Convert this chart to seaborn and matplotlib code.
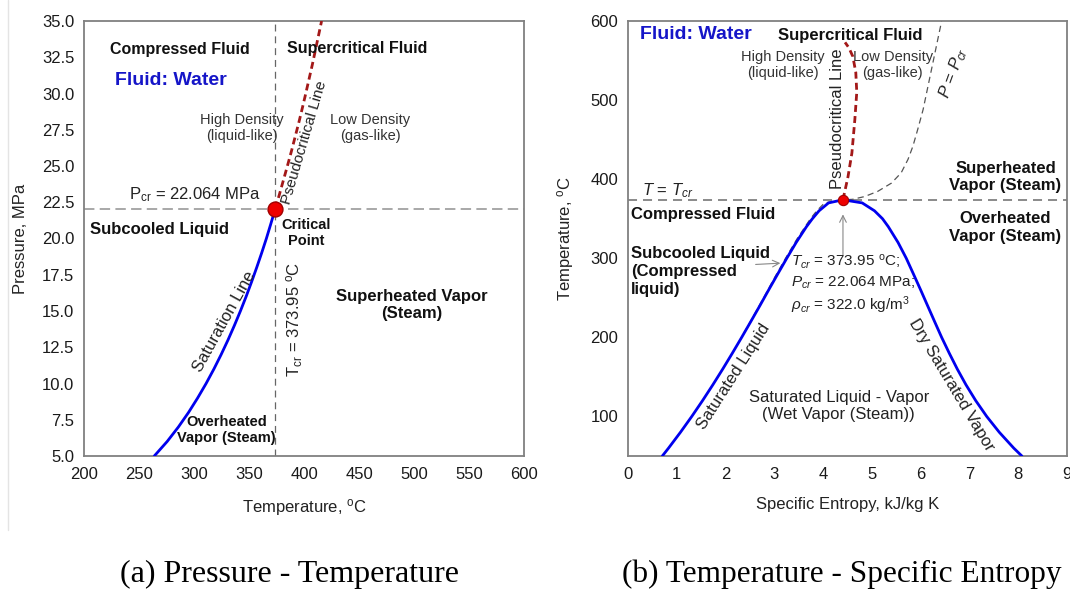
import numpy as np
import pandas as pd
import matplotlib
matplotlib.use("Agg")
import matplotlib.pyplot as plt
from matplotlib.lines import Line2D
from matplotlib.ticker import FormatStrFormatter
import seaborn as sns

# ---------------- data ----------------
P_CR = 22.064      # MPa
T_CR = 373.95      # deg C
S_CR = 4.407       # kJ/kg K

# (a) saturation line  (T [C], P [MPa])
sat_T = [263.9, 275.6, 285.8, 295.0, 303.3, 311.0, 318.1, 324.7, 330.9, 336.7,
         342.2, 347.4, 352.3, 357.0, 361.5, 365.8, 369.8, 373.7, 373.95]
sat_P = [5, 6, 7, 8, 9, 10, 11, 12, 13, 14, 15, 16, 17, 18, 19, 20, 21, 22, 22.064]

# (a) pseudocritical line
pc_T = [373.95, 377.5, 381.2, 384.9, 388.5, 391.9, 395.3, 398.5, 401.6, 404.6,
        407.6, 410.4, 413.2, 416.0]
pc_P = [22.064, 23, 24, 25, 26, 27, 28, 29, 30, 31, 32, 33, 34, 35]

# (b) saturation dome
dome_T = [50, 60, 80, 100, 120, 140, 160, 180, 200, 220, 240, 260, 280, 300,
          320, 340, 350, 360, 370, 373.95]
dome_sf = [0.7038, 0.8313, 1.0753, 1.3072, 1.5279, 1.7392, 1.9426, 2.1392,
           2.3305, 2.5177, 2.7029, 2.8838, 3.0681, 3.2548, 3.4480, 3.6593,
           3.7800, 3.9167, 4.1112, 4.4070]
dome_sg = [8.0748, 7.9081, 7.6122, 7.3541, 7.1291, 6.9293, 6.7502, 6.5863,
           6.4302, 6.2854, 6.1423, 5.9995, 5.8527, 5.7049, 5.5362, 5.3357,
           5.2177, 5.0536, 4.8012, 4.4070]

# (b) pseudocritical line
pcs_s = [4.407, 4.51, 4.59, 4.65, 4.69, 4.67, 4.61, 4.53, 4.45]
pcs_T = [373.95, 403, 433, 475, 510, 535, 555, 566, 573]

# (b) critical isobar P = Pcr
iso_s = [2.37, 2.51, 2.78, 3.00, 3.23, 3.47, 3.74, 3.87, 4.03, 4.407,
         4.60, 4.85, 5.12, 5.40, 5.60, 5.74, 5.84, 5.94, 6.05, 6.15, 6.25, 6.43]
iso_T = [205, 220, 250, 275, 300, 325, 350, 360, 370, 373.95,
         374.5, 378, 384.6, 395, 408, 425, 441.5, 463, 488, 517.5, 547, 600]

x_ticks_a = [200, 250, 300, 350, 400, 450, 500, 550, 600]
y_ticks_a = [5.0, 7.5, 10.0, 12.5, 15.0, 17.5, 20.0, 22.5, 25.0, 27.5, 30.0, 32.5, 35.0]
x_ticks_b = [0, 1, 2, 3, 4, 5, 6, 7, 8, 9]
y_ticks_b = [100, 200, 300, 400, 500, 600]

# ---------------- style ----------------
sns.set_theme(style="white")
plt.rcParams.update({
    "font.family": ["Liberation Sans", "DejaVu Sans"],
    "mathtext.fontset": "custom",
    "mathtext.rm": "Liberation Sans",
    "mathtext.it": "Liberation Sans:italic",
    "mathtext.bf": "Liberation Sans:bold",
    "axes.edgecolor": "#808080",
    "axes.linewidth": 1.3,
    "lines.scale_dashes": False,
    "text.color": "#111111",
})

BLUE = "#0000ee"
DRED = "#a31818"
TXTBLUE = "#1515c8"

fig = plt.figure(figsize=(10.7, 5.92), dpi=100)
ax1 = fig.add_axes([84 / 1070, 136 / 592, 440 / 1070, 435 / 592])
ax2 = fig.add_axes([628 / 1070, 136 / 592, 439 / 1070, 435 / 592])

# ---------------- (a) P-T ----------------
ax1.axhline(P_CR, color="#9a9a9a", lw=1.2, linestyle=(0, (7.5, 3.8)), zorder=1)
ax1.axvline(T_CR, color="#666666", lw=0.9, linestyle=(0, (5, 3.5)), zorder=1)
sns.lineplot(x=sat_T, y=sat_P, ax=ax1, color=BLUE, lw=2, sort=False,
             estimator=None, zorder=3)
sns.lineplot(x=pc_T, y=pc_P, ax=ax1, color=DRED, lw=2, sort=False,
             estimator=None, linestyle=(0, (5, 3)), zorder=3)
sns.scatterplot(x=[T_CR], y=[P_CR], ax=ax1, s=115, color="#ee0000",
                edgecolor="#a00000", linewidth=1, zorder=5)

ax1.set_xlim(200, 600)
ax1.set_ylim(5, 35)
ax1.set_xticks(x_ticks_a)
ax1.set_yticks(y_ticks_a)
ax1.yaxis.set_major_formatter(FormatStrFormatter("%.1f"))

t = dict(ha="left", va="center")
c = dict(ha="center", va="center")
ax1.text(223.6, 33.05, "Compressed Fluid", fontsize=11.5, fontweight="bold", **t)
ax1.text(384.5, 33.1, "Supercritical Fluid", fontsize=11.5, fontweight="bold", **t)
ax1.text(228, 30.93, "Fluid: Water", fontsize=14, fontweight="bold", color=TXTBLUE, **t)
ax1.text(343.6, 27.64, "High Density\n(liquid-like)", fontsize=10.5, color="#333333", **c)
ax1.text(460, 27.64, "Low Density\n(gas-like)", fontsize=10.5, color="#333333", **c)
ax1.text(400, 26.6, "Pseudocritical Line", fontsize=11, rotation=73.5,
         rotation_mode="anchor", color="#222222", **c)
ax1.text(301, 23.0, r"P$_{\rm cr}$ = 22.064 MPa", fontsize=12, color="#222222", **c)
ax1.text(205.5, 20.65, "Subcooled Liquid", fontsize=12, fontweight="bold", **t)
ax1.text(402, 20.4, "Critical\nPoint", fontsize=10.5, fontweight="bold", **c)
ax1.text(327.7, 14.26, "Saturation Line", fontsize=12, rotation=61,
         rotation_mode="anchor", color="#222222", **c)
ax1.text(391.3, 14.45, r"T$_{\rm cr}$ = 373.95 $^{\rm o}$C", fontsize=12, rotation=90,
         rotation_mode="anchor", color="#222222", **c)
ax1.text(497.7, 15.4, "Superheated Vapor\n(Steam)", fontsize=12, fontweight="bold", **c)
ax1.text(329.7, 6.77, "Overheated\nVapor (Steam)", fontsize=10.5, fontweight="bold", **c)

ax1.set_xlabel(r"Temperature, $^{\rm o}$C", fontsize=12, color="#222222")
ax1.set_ylabel("Pressure, MPa", fontsize=12, color="#222222")
ax1.xaxis.set_label_coords(0.5, -0.094)
ax1.yaxis.set_label_coords(-0.128, 0.5)

# ---------------- (b) T-s ----------------
dome_s = dome_sf + dome_sg[::-1][1:]
dome_TT = dome_T + dome_T[::-1][1:]
ax2.axhline(T_CR, color="#8a8a8a", lw=1.4, linestyle=(0, (6.5, 4.3)), zorder=1)
sns.lineplot(x=iso_s, y=iso_T, ax=ax2, color="#555555", lw=0.9, sort=False,
             estimator=None, linestyle=(0, (4.5, 3)), zorder=2)
sns.lineplot(x=dome_s, y=dome_TT, ax=ax2, color=BLUE, lw=2, sort=False,
             estimator=None, zorder=3)
sns.lineplot(x=pcs_s, y=pcs_T, ax=ax2, color=DRED, lw=2, sort=False,
             estimator=None, linestyle=(0, (5, 3)), zorder=3)
sns.scatterplot(x=[S_CR], y=[T_CR], ax=ax2, s=55, color="#ee0000",
                edgecolor="#a00000", linewidth=0.8, zorder=5)

ax2.set_xlim(0, 9)
ax2.set_ylim(50, 600)
ax2.set_xticks(x_ticks_b)
ax2.set_yticks(y_ticks_b)

ax2.text(0.245, 583, "Fluid: Water", fontsize=14, fontweight="bold", color=TXTBLUE, **t)
ax2.text(4.55, 581.6, "Supercritical Fluid", fontsize=12, fontweight="bold", **c)
ax2.text(3.18, 544.5, "High Density\n(liquid-like)", fontsize=10.5, color="#333333", **c)
ax2.text(5.43, 544.5, "Low Density\n(gas-like)", fontsize=10.5, color="#333333", **c)
ax2.text(4.30, 477, "Pseudocritical Line", fontsize=12, rotation=90,
         rotation_mode="anchor", color="#222222", **c)
ax2.text(6.66, 535, r"$P$ = $P_{cr}$", fontsize=12, rotation=70,
         rotation_mode="anchor", color="#222222", **c)
ax2.text(0.29, 386, r"$T$ = $T_{cr}$", fontsize=12, color="#222222", **t)
ax2.text(7.74, 403, "Superheated\nVapor (Steam)", fontsize=12, fontweight="bold", **c)
ax2.text(0.06, 355, "Compressed Fluid", fontsize=12, fontweight="bold", **t)
ax2.text(7.74, 339, "Overheated\nVapor (Steam)", fontsize=12, fontweight="bold", **c)
ax2.text(0.06, 283, "Subcooled Liquid\n(Compressed\nliquid)", fontsize=12,
         fontweight="bold", linespacing=1.25, **t)
ax2.text(3.35, 296, r"$T_{cr}$ = 373.95 $^{\rm o}$C;", fontsize=11, color="#222222", **t)
ax2.text(3.35, 268.6, r"$P_{cr}$ = 22.064 MPa;", fontsize=11, color="#222222", **t)
ax2.text(3.35, 241, r"$\rho_{cr}$ = 322.0 kg/m$^3$", fontsize=11, color="#222222", **t)
ax2.text(2.17, 150, "Saturated Liquid", fontsize=12, rotation=57.4,
         rotation_mode="anchor", color="#222222", **c)
ax2.text(4.32, 113.5, "Saturated Liquid - Vapor\n(Wet Vapor (Steam))", fontsize=12,
         color="#222222", **c)
ax2.text(6.63, 140, "Dry Saturated Vapor", fontsize=12, rotation=-59,
         rotation_mode="anchor", color="#222222", **c)
ax2.annotate("", xy=(3.18, 294), xytext=(2.56, 292),
             arrowprops=dict(arrowstyle="->", color="#888888", lw=0.8))
ax2.annotate("", xy=(S_CR, 359), xytext=(S_CR, 301),
             arrowprops=dict(arrowstyle="->", color="#888888", lw=0.8))

ax2.set_xlabel("Specific Entropy, kJ/kg K", fontsize=12, color="#222222")
ax2.set_ylabel(r"Temperature, $^{\rm o}$C", fontsize=12, color="#222222")
ax2.xaxis.set_label_coords(0.5, -0.094)
ax2.yaxis.set_label_coords(-0.118, 0.5)

for ax in (ax1, ax2):
    ax.tick_params(direction="in", length=4, width=1, color="#808080",
                   labelsize=12, labelcolor="#1a1a1a")
    ax.tick_params(axis="y", pad=7)
    ax.tick_params(axis="x", pad=8)
    for sp in ax.spines.values():
        sp.set_color("#808080")
        sp.set_linewidth(1.3)

# ---------------- captions ----------------
fig.text(290 / 1070, 1 - 582 / 592, "(a) Pressure - Temperature",
         family="Liberation Serif", fontsize=23, ha="center", va="baseline", color="black")
fig.text(622 / 1070, 1 - 582 / 592, "(b) Temperature - Specific Entropy",
         family="Liberation Serif", fontsize=22.5, ha="left", va="baseline", color="black")

fig.add_artist(Line2D([8 / 1070, 8 / 1070], [1 - 530 / 592, 1], color="#e4e4e4", lw=1))

fig.savefig("out.png", dpi=100)
